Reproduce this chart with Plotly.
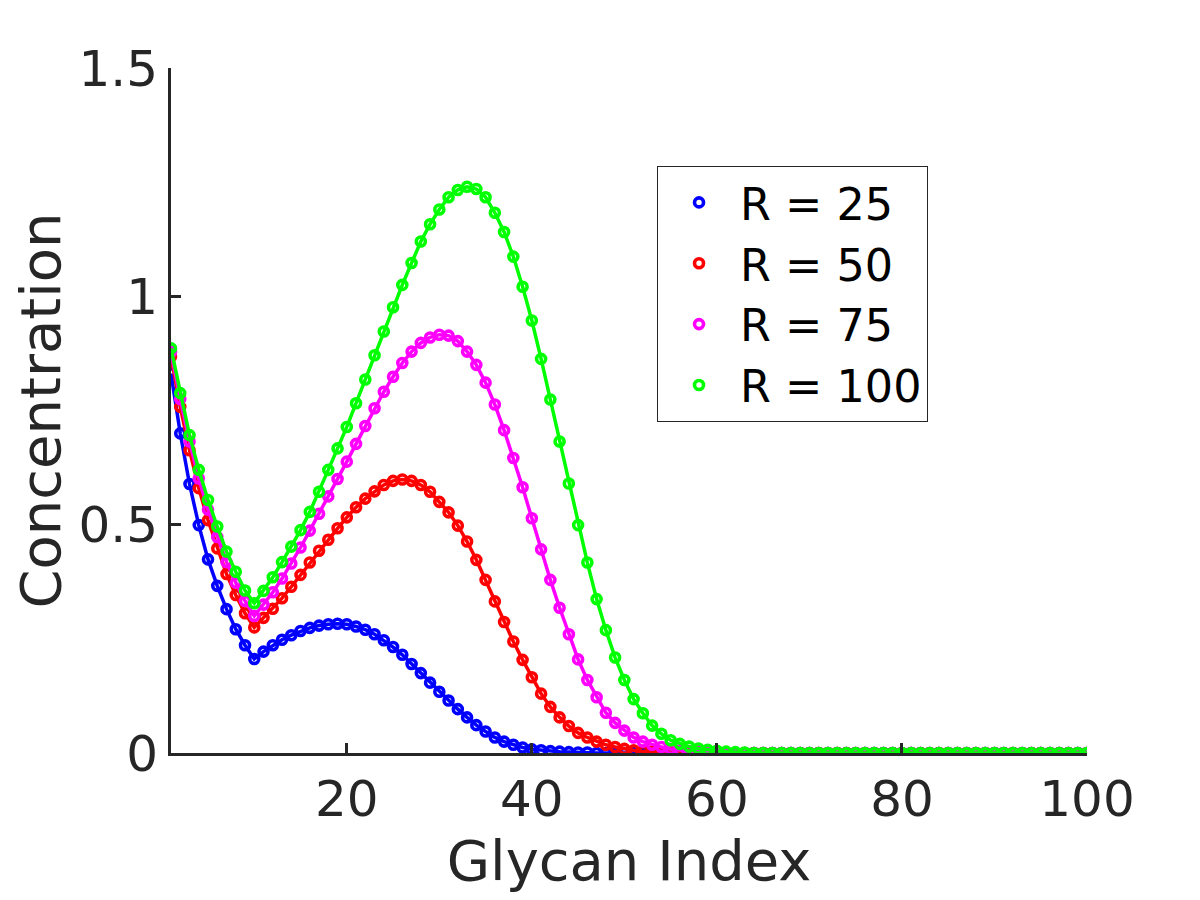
import plotly.graph_objects as go

glycan_index = list(range(1, 101))

r25 = [0.831, 0.700, 0.589, 0.499, 0.424, 0.366, 0.315, 0.271, 0.236, 0.206,
       0.222, 0.236, 0.248, 0.258, 0.267, 0.274, 0.279, 0.282, 0.283, 0.282,
       0.277, 0.270, 0.260, 0.247, 0.232, 0.215, 0.195, 0.175, 0.154, 0.134,
       0.115, 0.096, 0.078, 0.061, 0.047, 0.034, 0.025, 0.018, 0.012, 0.008,
       0.006, 0.004, 0.003, 0.002, 0.001, 0.001, 0, 0, 0, 0,
       0, 0, 0, 0, 0, 0, 0, 0, 0, 0,
       0, 0, 0, 0, 0, 0, 0, 0, 0, 0,
       0, 0, 0, 0, 0, 0, 0, 0, 0, 0,
       0, 0, 0, 0, 0, 0, 0, 0, 0, 0,
       0, 0, 0, 0, 0, 0, 0, 0, 0, 0]

r50 = [0.868, 0.758, 0.663, 0.580, 0.510, 0.448, 0.392, 0.346, 0.306, 0.275,
       0.296, 0.316, 0.339, 0.364, 0.390, 0.417, 0.443, 0.467, 0.492, 0.516,
       0.538, 0.557, 0.573, 0.587, 0.596, 0.599, 0.596, 0.587, 0.572, 0.550,
       0.527, 0.498, 0.463, 0.423, 0.379, 0.332, 0.287, 0.244, 0.204, 0.166,
       0.130, 0.101, 0.078, 0.059, 0.044, 0.034, 0.025, 0.018, 0.013, 0.009,
       0.006, 0.004, 0.003, 0.002, 0.001, 0.001, 0, 0, 0, 0,
       0, 0, 0, 0, 0, 0, 0, 0, 0, 0,
       0, 0, 0, 0, 0, 0, 0, 0, 0, 0,
       0, 0, 0, 0, 0, 0, 0, 0, 0, 0,
       0, 0, 0, 0, 0, 0, 0, 0, 0, 0]

r75 = [0.878, 0.775, 0.682, 0.601, 0.533, 0.473, 0.418, 0.373, 0.333, 0.300,
       0.325, 0.352, 0.382, 0.415, 0.450, 0.487, 0.524, 0.562, 0.600, 0.638,
       0.677, 0.716, 0.755, 0.791, 0.824, 0.854, 0.879, 0.898, 0.910, 0.916,
       0.914, 0.902, 0.879, 0.850, 0.811, 0.763, 0.707, 0.646, 0.582, 0.514,
       0.446, 0.379, 0.318, 0.260, 0.205, 0.160, 0.122, 0.088, 0.066, 0.049,
       0.034, 0.025, 0.018, 0.013, 0.009, 0.006, 0.004, 0.003, 0.002, 0.001,
       0, 0, 0, 0, 0, 0, 0, 0, 0, 0,
       0, 0, 0, 0, 0, 0, 0, 0, 0, 0,
       0, 0, 0, 0, 0, 0, 0, 0, 0, 0,
       0, 0, 0, 0, 0, 0, 0, 0, 0, 0]

r100 = [0.886, 0.788, 0.696, 0.620, 0.554, 0.496, 0.441, 0.397, 0.356, 0.328,
        0.355, 0.385, 0.418, 0.452, 0.488, 0.528, 0.572, 0.620, 0.667, 0.714,
        0.766, 0.818, 0.871, 0.923, 0.976, 1.025, 1.073, 1.120, 1.158, 1.190,
        1.217, 1.233, 1.240, 1.235, 1.217, 1.183, 1.141, 1.087, 1.021, 0.947,
        0.863, 0.774, 0.682, 0.590, 0.499, 0.417, 0.337, 0.269, 0.209, 0.160,
        0.118, 0.087, 0.060, 0.042, 0.028, 0.020, 0.014, 0.010, 0.007, 0.005,
        0.003, 0.002, 0.001, 0, 0, 0, 0, 0, 0, 0,
        0, 0, 0, 0, 0, 0, 0, 0, 0, 0,
        0, 0, 0, 0, 0, 0, 0, 0, 0, 0,
        0, 0, 0, 0, 0, 0, 0, 0, 0, 0]

series = [('R = 25', r25, '#0000ff'),
          ('R = 50', r50, '#ff0000'),
          ('R = 75', r75, '#ff00ff'),
          ('R = 100', r100, '#00ff00')]

x_ticks = [20, 40, 60, 80, 100]
y_ticks = [0, 0.5, 1, 1.5]
y_labels = ['0', '0.5', '1', '1.5']

axis_col = '#262626'

fig = go.Figure()
for name, vals, col in series:
    # markers (these go in the legend) then the joining line
    fig.add_trace(go.Scatter(x=glycan_index, y=vals, mode='markers', name=name,
                             marker=dict(symbol='circle-open', size=9, color=col,
                                         line=dict(width=3.6, color=col))))
    fig.add_trace(go.Scatter(x=glycan_index, y=vals, mode='lines', showlegend=False,
                             line=dict(color=col, width=3.5), hoverinfo='skip'))

# page body adds 8px, so margins are 8px smaller on the left/top
fig.update_layout(
    width=1200, height=900,
    paper_bgcolor='white', plot_bgcolor='white',
    margin=dict(l=163, r=121, t=60, b=155),
    font=dict(family='DejaVu Sans', size=50, color=axis_col),
    legend=dict(x=0.5306, y=0.857, xanchor='left', yanchor='top',
                bgcolor='white', bordercolor=axis_col, borderwidth=1,
                font=dict(size=44.5, color='black'), itemwidth=72),
)
fig.update_xaxes(range=[1, 100], tickvals=x_ticks, ticks='inside', ticklen=10,
                 tickwidth=3, tickcolor=axis_col, showline=True, linewidth=3,
                 linecolor=axis_col, showgrid=False, zeroline=False,
                 title=dict(text='Glycan Index', font=dict(size=56), standoff=10))
fig.update_yaxes(range=[0, 1.5], tickvals=y_ticks, ticktext=y_labels, ticks='inside',
                 ticklen=10, tickwidth=3, tickcolor=axis_col, showline=True,
                 linewidth=3, linecolor=axis_col, showgrid=False, zeroline=False,
                 title=dict(text='Concentration', font=dict(size=56), standoff=14))

fig.write_html('out.html')
